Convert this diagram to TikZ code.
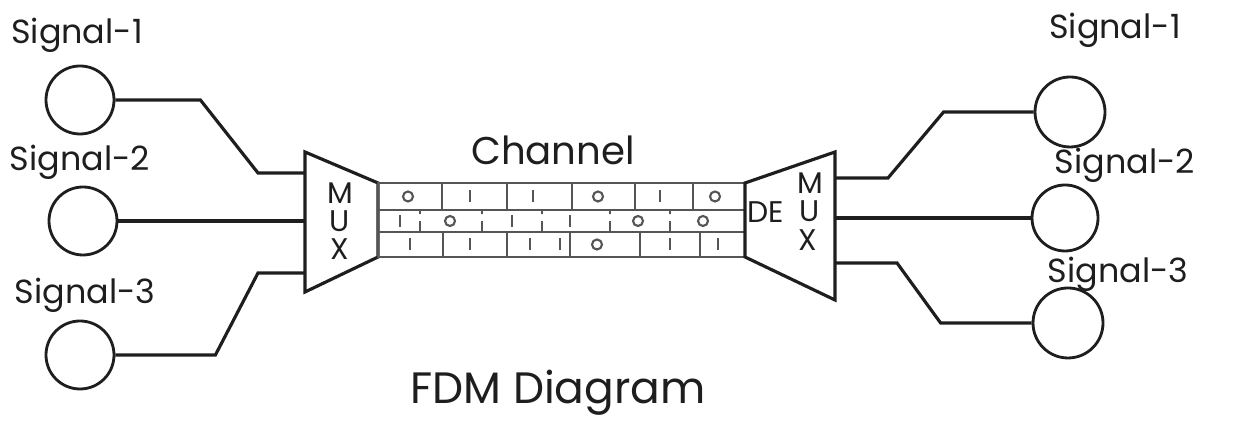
\documentclass[tikz,border=0pt]{standalone}
\usepackage{fontspec}
\setmainfont{Poppins}
\usetikzlibrary{calc}
\definecolor{ink}{HTML}{1E1E1E}
\definecolor{pencil}{HTML}{555555}

\begin{document}
\begin{tikzpicture}[
  sig/.style={circle,draw=ink,line width=0.8pt,minimum size=0.68cm,inner sep=0pt},
  lbl/.style={text=ink,inner sep=1pt,font=\fontsize{9.5}{11}\selectfont},
  ltr/.style={text=ink,inner sep=0pt,font=\fontsize{8.5}{10}\selectfont},
  w/.style={line width=0.9pt,draw=ink},
  ch/.style={line width=0.6pt,draw=pencil},
  cd/.style={line width=0.4pt,draw=pencil,densely dashed}]
\useasboundingbox (0,0) rectangle (12.36,4.34);
% signals in
\node[sig] (s1) at (0.80,3.34) {};
\node[sig] (s2) at (0.83,2.13) {};
\node[sig] (s3) at (0.80,0.79) {};
\node[lbl] (l1) at (0.77,3.99) {Signal-1};
\node[lbl] (l2) at (0.80,2.72) {Signal-2};
\node[lbl] (l3) at (0.85,1.39) {Signal-3};
% mux
\coordinate (m1) at (3.05,2.61);
\coordinate (m2) at (3.05,2.13);
\coordinate (m3) at (3.05,1.61);
\draw[w] (3.05,2.82) -- (3.78,2.51) -- (3.78,1.77) -- (3.05,1.42) -- cycle;
\node[ltr] (mm) at (3.40,2.41) {M};
\node[ltr] (mu) at (3.40,2.13) {U};
\node[ltr] (mx) at (3.40,1.85) {X};
\draw[w] (s1.east) -- ++(0.85,0) -- ($(m1)+(-0.47,0)$) -- (m1);
\draw[w] (s2.east) -- (m2);
\draw[w] (s3.east) -- ++(1.00,0) -- ($(m3)+(-0.47,0)$) -- (m3);
% channel
\draw[ch] (3.78,1.77) rectangle (7.45,2.51);
\draw[ch] (3.78,2.24) -- (7.45,2.24);
\draw[ch] (3.78,2.02) -- (7.45,2.02);
\foreach \x in {4.42,5.07,5.72,6.35,6.93} \draw[ch] (\x,2.24) -- (\x,2.51);
\foreach \x in {4.20,4.82,5.42,6.10,6.70} \draw[cd] (\x,2.02) -- (\x,2.24);
\foreach \x in {4.43,5.07,5.70,6.40,7.00} \draw[ch] (\x,1.77) -- (\x,2.02);
\foreach \x/\y in {4.08/2.375,5.98/2.375,7.15/2.375,4.50/2.13,6.38/2.13,7.03/2.13,5.97/1.895}
  \draw[ch] (\x,\y) circle (0.05);
\foreach \x/\y in {4.70/2.375,5.33/2.375,6.60/2.375,4.00/2.13,5.12/2.13,5.70/2.13,
  4.10/1.895,4.70/1.895,5.30/1.895,5.60/1.895,6.70/1.895,7.18/1.895}
  \draw[ch] (\x,\y-0.06) -- (\x,\y+0.06);
\node[lbl,font=\fontsize{11}{13}\selectfont] (chl) at (5.53,2.84) {Channel};
% demux
\draw[w] (7.45,2.51) -- (8.35,2.82) -- (8.35,1.34) -- (7.45,1.77) -- cycle;
\node[ltr] (de) at (7.66,2.22) {DE};
\node[ltr] (dm) at (8.10,2.51) {M};
\node[ltr] (du) at (8.10,2.23) {U};
\node[ltr] (dx) at (8.08,1.94) {X};
\coordinate (d1) at (8.35,2.56);
\coordinate (d2) at (8.35,2.16);
\coordinate (d3) at (8.35,1.71);
% signals out
\node[sig,minimum size=0.70cm] (r1) at (10.70,3.22) {};
\node[sig,minimum size=0.66cm] (r2) at (10.65,2.16) {};
\node[sig,minimum size=0.70cm] (r3) at (10.68,1.11) {};
\node[lbl] (k1) at (11.15,4.04) {Signal-1};
\node[lbl] (k2) at (11.25,2.69) {Signal-2};
\node[lbl] (k3) at (11.18,1.60) {Signal-3};
\draw[w] (d1) -- ++(0.53,0) -- ($(r1.west)+(-0.90,0)$) -- (r1.west);
\draw[w] (d2) -- (r2.west);
\draw[w] (d3) -- ++(0.62,0) -- ($(r3.west)+(-0.91,0)$) -- (r3.west);
\node[lbl,font=\fontsize{12.5}{15}\selectfont] (ttl) at (5.58,0.41) {FDM Diagram};
\end{tikzpicture}
\end{document}
